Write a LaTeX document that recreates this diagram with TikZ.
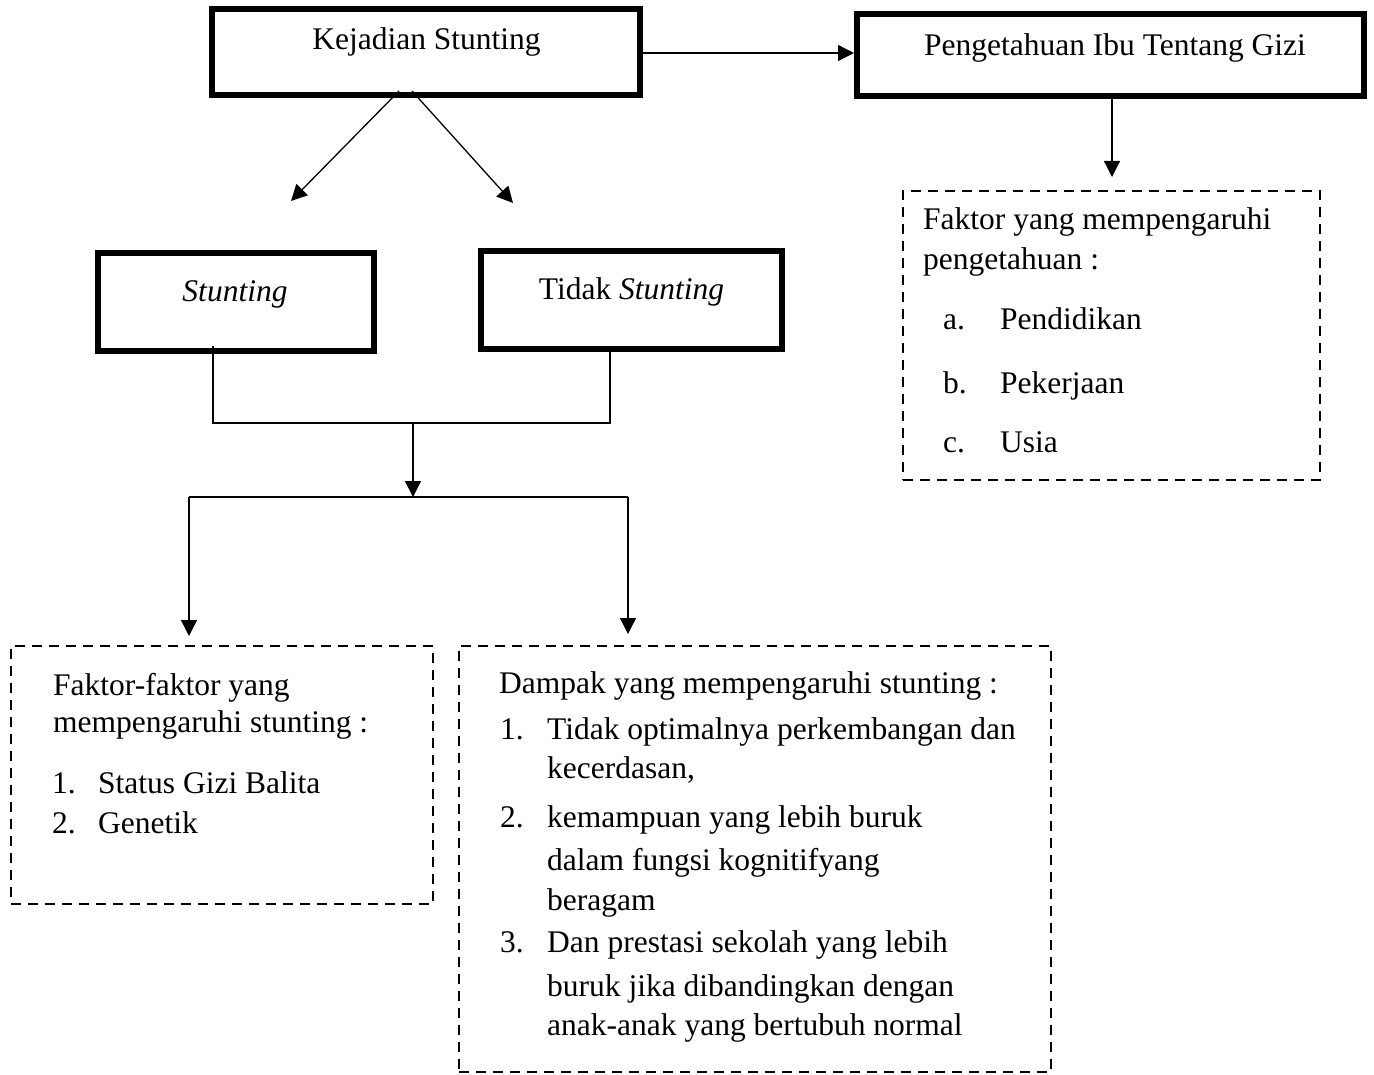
\documentclass[tikz,border=0pt]{standalone}
\usepackage{fontspec}
\setmainfont{Liberation Serif}
\usetikzlibrary{arrows.meta}
\begin{document}
\begin{tikzpicture}[x=1pt,y=-1pt,
  thickbox/.style={draw,line width=6pt,inner sep=0pt},
  dbox/.style={draw,line width=2.8pt,dash pattern=on 10pt off 7pt,inner sep=0pt},
  conn/.style={line width=1.3pt},
  arr/.style={conn,-{Triangle[length=16pt,width=16pt]}},
  txt/.style={inner sep=0pt,anchor=base west,font=\fontsize{31.5}{36}\selectfont},
  ctxt/.style={txt,anchor=base}]
\useasboundingbox (0,0) rectangle (1374,1075);

% boxes
\node[thickbox,minimum width=428pt,minimum height=86pt] (kej) at (426,52) {};
\node[thickbox,minimum width=507pt,minimum height=82pt] (peng) at (1110.5,55) {};
\node[thickbox,minimum width=276pt,minimum height=98pt] (st) at (236,302) {};
\node[thickbox,minimum width=301pt,minimum height=98pt] (tst) at (631.5,300) {};
\node[dbox,minimum width=417pt,minimum height=289pt] (fp) at (1111.5,335.5) {};
\node[dbox,minimum width=422pt,minimum height=258pt] (fs) at (222,775) {};
\node[dbox,minimum width=592pt,minimum height=426pt] (dp) at (755,859) {};

% box titles
\node[ctxt] (kejt) at (426.5,50) {Kejadian Stunting};
\node[ctxt] (pengt) at (1115,56) {Pengetahuan Ibu Tentang Gizi};
\node[ctxt] (stt) at (235,302) {\textit{Stunting}};
\node[ctxt] (tstt) at (631.5,300) {Tidak \textit{Stunting}};

% top right dashed box text
\node[txt] (fp1) at (923,230) {Faktor yang mempengaruhi};
\node[txt] (fp2) at (923,270) {pengetahuan :};
\node[txt] (fpa) at (943,330) {a.};
\node[txt] (fpat) at (1000,330) {Pendidikan};
\node[txt] (fpb) at (943,393) {b.};
\node[txt] (fpbt) at (1000,393) {Pekerjaan};
\node[txt] (fpc) at (943,452) {c.};
\node[txt] (fpct) at (1000,452) {Usia};

% left dashed box text
\node[txt] (fs1) at (53,695) {Faktor-faktor yang};
\node[txt] (fs2) at (53,732) {mempengaruhi stunting :};
\node[txt] (fsa) at (52,793) {1.};
\node[txt] (fsat) at (98,793) {Status Gizi Balita};
\node[txt] (fsb) at (52,833) {2.};
\node[txt] (fsbt) at (98,833) {Genetik};

% right dashed box text
\node[txt] (dp0) at (499,693) {Dampak yang mempengaruhi stunting :};
\node[txt] (dpn1) at (500,739) {1.};
\node[txt] (dp1) at (547,739) {Tidak optimalnya perkembangan dan};
\node[txt] (dp2) at (547,778) {kecerdasan,};
\node[txt] (dpn2) at (500,827) {2.};
\node[txt] (dp3) at (547,827) {kemampuan yang lebih buruk};
\node[txt] (dp4) at (547,870) {dalam fungsi kognitifyang};
\node[txt] (dp5) at (547,910) {beragam};
\node[txt] (dpn3) at (500,952) {3.};
\node[txt] (dp6) at (547,952) {Dan prestasi sekolah yang lebih};
\node[txt] (dp7) at (547,996) {buruk jika dibandingkan dengan};
\node[txt] (dp8) at (547,1035) {anak-anak yang bertubuh normal};

% connector points
\coordinate (k1) at (399,91);
\coordinate (k2) at (412,91);
\coordinate (k1e) at (291,201);
\coordinate (k2e) at (513,203);
\coordinate (sb) at (213,346);
\coordinate (tb) at (610,352);
\coordinate (jn) at (413,423);
\coordinate (sp) at (413,497);
\coordinate (spl) at (189,497);
\coordinate (spr) at (628,497);
\coordinate (al) at (189,636);
\coordinate (ar) at (628,634);
\coordinate (pe) at (1112,177);

% connectors
\draw[arr] (kej.east |- 0,53) -- (peng.west |- 0,53);
\draw[arr] (k1) -- (k1e);
\draw[arr] (k2) -- (k2e);
\draw[conn] (sb) |- (tb |- jn) -- (tb);
\draw[arr] (jn) -- (sp);
\draw[conn] (spl) -- (spr);
\draw[arr] (spl) -- (al);
\draw[arr] (spr) -- (ar);
\draw[arr] (peng.south -| pe) -- (pe);
\end{tikzpicture}
\end{document}
